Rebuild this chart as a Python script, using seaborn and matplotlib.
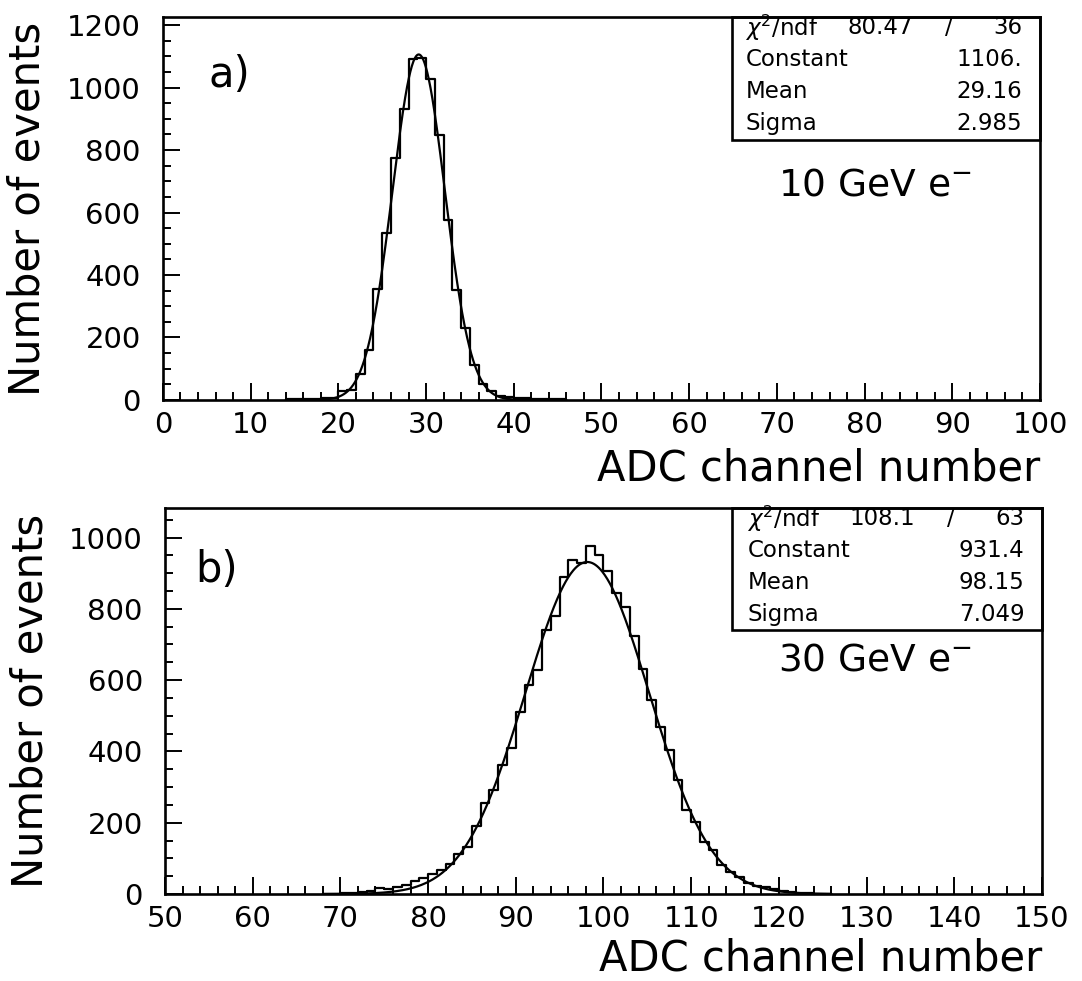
import numpy as np
import pandas as pd
import matplotlib
matplotlib.use("Agg")
import matplotlib.pyplot as plt
import seaborn as sns
from matplotlib.ticker import MultipleLocator
from matplotlib.patches import Rectangle

# ---------------- data ----------------
# panel a) : 10 GeV electrons, bins of width 1 (left edges)
bins_a = list(range(14, 46))
counts_a = [2, 3, 3, 4, 5, 6, 30, 32, 82, 160, 355, 533, 773, 930, 1090, 1095,
            1029, 848, 576, 352, 229, 111, 52, 30, 14, 8, 6, 5, 4, 4, 3, 2]
fit_a_constant, fit_a_mean, fit_a_sigma = 1106.0, 29.16, 2.985
stats_a = ["80.47", "36", "1106.", "29.16", "2.985"]

# panel b) : 30 GeV electrons
bins_b = list(range(68, 126))
counts_b = [1, 1, 2, 3, 5, 8, 16, 14, 21, 25, 37, 44, 56, 67, 84, 113, 132, 191,
            255, 292, 362, 410, 510, 586, 628, 740, 780, 890, 937, 928, 976, 951,
            907, 845, 806, 724, 630, 545, 468, 404, 320, 236, 203, 147, 123, 81,
            63, 47, 32, 22, 21, 14, 8, 5, 3, 2, 1, 1]
fit_b_constant, fit_b_mean, fit_b_sigma = 931.4, 98.15, 7.049
stats_b = ["108.1", "63", "931.4", "98.15", "7.049"]

xticks_a = [0, 10, 20, 30, 40, 50, 60, 70, 80, 90, 100]
xticks_b = [50, 60, 70, 80, 90, 100, 110, 120, 130, 140, 150]
yticks_a = [0, 200, 400, 600, 800, 1000, 1200]
yticks_b = [0, 200, 400, 600, 800, 1000]

# ---------------- style ----------------
sns.set_style("white")
plt.rcParams["font.family"] = ["DejaVu Sans"]
plt.rcParams["mathtext.fontset"] = "dejavusans"
plt.rcParams["text.color"] = "black"
plt.rcParams["axes.labelcolor"] = "black"
plt.rcParams["xtick.color"] = "black"
plt.rcParams["ytick.color"] = "black"

fig = plt.figure(figsize=(10.82, 9.81), dpi=100)
ax_a = fig.add_axes([0.1506, 0.5923, 0.8106, 0.3904])
ax_b = fig.add_axes([0.1525, 0.0887, 0.8105, 0.3935])


def draw_panel(ax, bins, counts, const, mean, sigma, xlim, ylim, xticks, yticks,
               tag, energy, stats, tag_xy, energy_xy, xlabel_y, box):
    edges = [float(b) for b in bins] + [float(bins[-1] + 1)]
    centers = [b + 0.5 for b in bins]
    df = pd.DataFrame({"x": centers, "w": [float(c) for c in counts]})
    sns.histplot(data=df, x="x", weights="w", bins=edges, element="step",
                 fill=False, color="black", linewidth=1.6, ax=ax)
    xs = np.linspace(edges[0], edges[-1], 600)
    ys = const * np.exp(-0.5 * ((xs - mean) / sigma) ** 2)
    sns.lineplot(x=xs, y=ys, color="black", linewidth=1.6, ax=ax)

    ax.set_xlim(*xlim)
    ax.set_ylim(*ylim)
    ax.set_xticks(xticks)
    ax.set_yticks(yticks)
    ax.xaxis.set_minor_locator(MultipleLocator(2))
    ax.yaxis.set_minor_locator(MultipleLocator(50))
    ax.tick_params(which="both", direction="in", top=False, right=False,
                   bottom=True, left=True, width=1.4, color="black")
    ax.tick_params(which="major", length=12)
    ax.tick_params(which="minor", length=6)
    ax.tick_params(axis="x", which="major", labelsize=21, pad=8)
    ax.tick_params(axis="y", which="major", labelsize=21, pad=16)
    for s in ax.spines.values():
        s.set_visible(True)
        s.set_color("black")
        s.set_linewidth(1.9)

    ax.set_ylabel("Number of events", fontsize=30)
    ax.yaxis.set_label_coords(-0.13, 0.5)
    ax.set_xlabel("ADC channel number", fontsize=30, ha="right")
    ax.xaxis.set_label_coords(1.0, xlabel_y)

    ax.text(tag_xy[0], tag_xy[1], tag, transform=ax.transAxes, fontsize=30,
            ha="left", va="center")
    ax.text(energy_xy[0], energy_xy[1], energy, transform=ax.transAxes,
            fontsize=27, ha="left", va="center")

    # statistics box
    bx0, by0, bw, bh = box
    ax.add_patch(Rectangle((bx0, by0), bw, bh, transform=ax.transAxes,
                           fill=False, lw=1.9, ec="black", clip_on=False,
                           zorder=5))
    rows_y = [1 - 0.028, 1 - 0.111, 1 - 0.194, 1 - 0.277]
    fs = 16.5
    lx, rx = 0.664, 0.980
    ax.text(lx, rows_y[0], r"$\chi^2$/ndf", transform=ax.transAxes,
            fontsize=fs, ha="left", va="center")
    ax.text(0.855, rows_y[0], stats[0], transform=ax.transAxes,
            fontsize=fs, ha="right", va="center")
    ax.text(0.896, rows_y[0], "/", transform=ax.transAxes,
            fontsize=fs, ha="center", va="center")
    ax.text(rx, rows_y[0], stats[1], transform=ax.transAxes,
            fontsize=fs, ha="right", va="center")
    for name, val, yy in zip(["Constant", "Mean", "Sigma"], stats[2:], rows_y[1:]):
        ax.text(lx, yy, name, transform=ax.transAxes, fontsize=fs,
                ha="left", va="center")
        ax.text(rx, yy, val, transform=ax.transAxes, fontsize=fs,
                ha="right", va="center")


draw_panel(ax_a, bins_a, counts_a, fit_a_constant, fit_a_mean, fit_a_sigma,
           (0, 100), (0, 1226), xticks_a, yticks_a,
           "a)", r"10 GeV e$^{-}$", stats_a,
           (0.052, 0.849), (0.701, 0.561), -0.125, (0.649, 0.679, 0.351, 0.321))
draw_panel(ax_b, bins_b, counts_b, fit_b_constant, fit_b_mean, fit_b_sigma,
           (50, 150), (0, 1083), xticks_b, yticks_b,
           "b)", r"30 GeV e$^{-}$", stats_b,
           (0.034, 0.839), (0.699, 0.606), -0.112, (0.647, 0.684, 0.353, 0.316))

fig.savefig("out.png", dpi=100, facecolor="white")
